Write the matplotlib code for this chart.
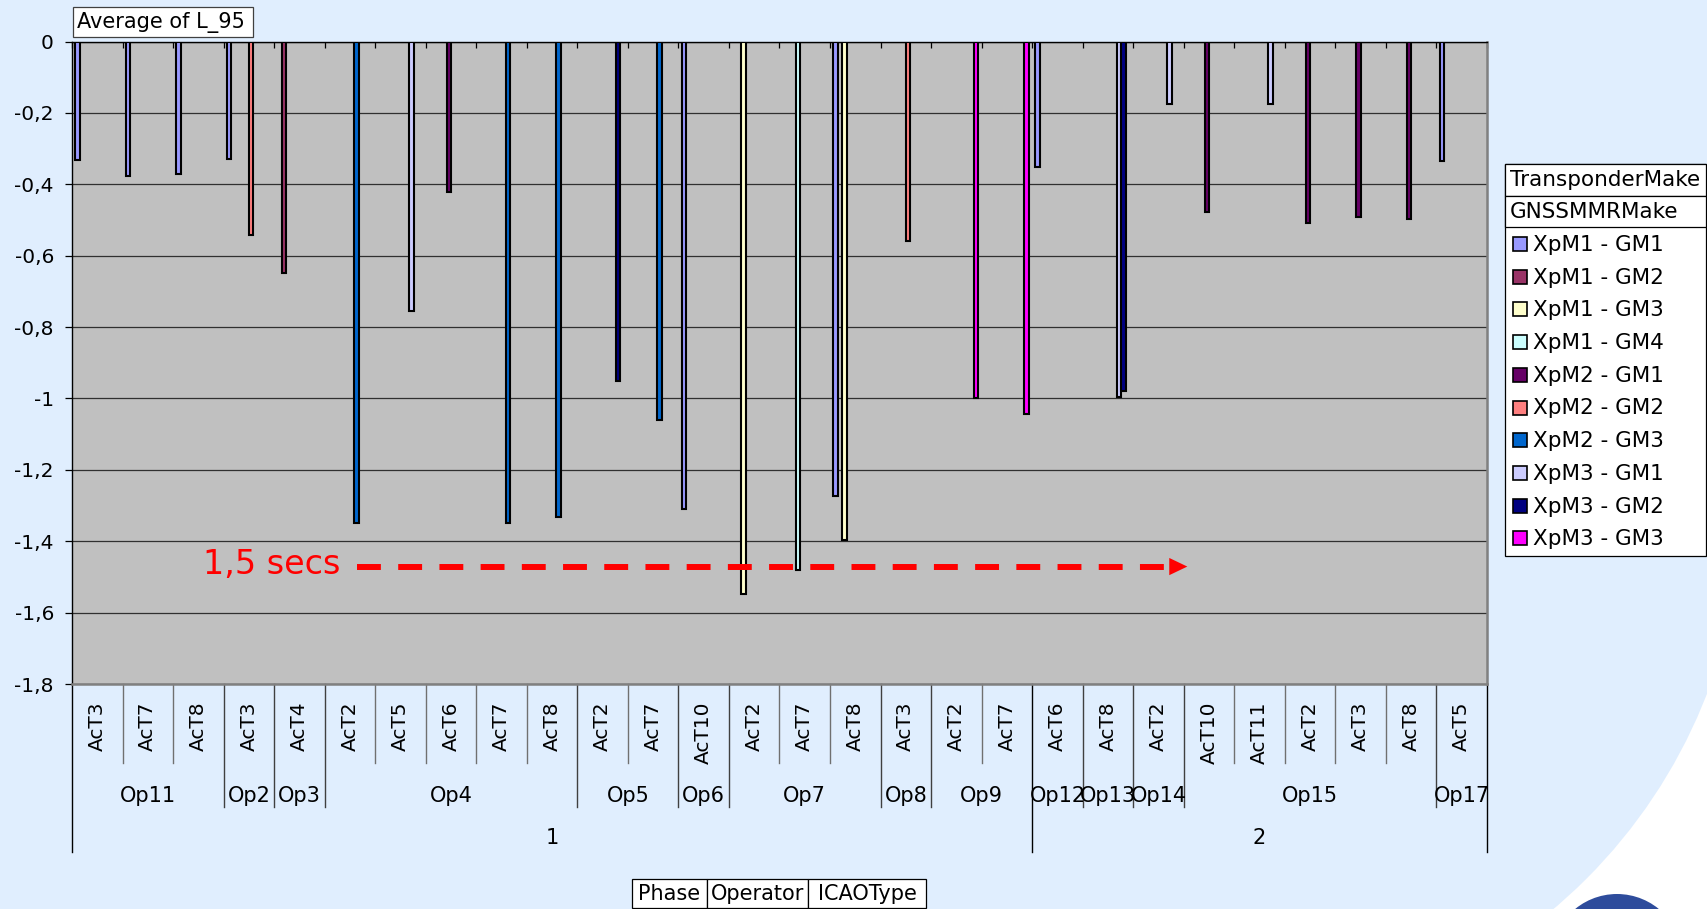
import numpy as np
import matplotlib.pyplot as plt
from matplotlib.patches import Rectangle, Circle

W, H = 1708, 909

# categories (Phase / Operator / ICAOType)
phase = [1] * 19 + [2] * 9
operator = ['Op11', 'Op11', 'Op11', 'Op2', 'Op3', 'Op4', 'Op4', 'Op4', 'Op4', 'Op4',
            'Op5', 'Op5', 'Op6', 'Op7', 'Op7', 'Op7', 'Op8', 'Op9', 'Op9',
            'Op12', 'Op13', 'Op14', 'Op15', 'Op15', 'Op15', 'Op15', 'Op15', 'Op17']
icao_type = ['AcT3', 'AcT7', 'AcT8', 'AcT3', 'AcT4', 'AcT2', 'AcT5', 'AcT6', 'AcT7', 'AcT8',
             'AcT2', 'AcT7', 'AcT10', 'AcT2', 'AcT7', 'AcT8', 'AcT3', 'AcT2', 'AcT7',
             'AcT6', 'AcT8', 'AcT2', 'AcT10', 'AcT11', 'AcT2', 'AcT3', 'AcT8', 'AcT5']

series_names = ['XpM1 - GM1', 'XpM1 - GM2', 'XpM1 - GM3', 'XpM1 - GM4', 'XpM2 - GM1',
                'XpM2 - GM2', 'XpM2 - GM3', 'XpM3 - GM1', 'XpM3 - GM2', 'XpM3 - GM3']
series_colors = ['#9999FF', '#993366', '#FFFFCC', '#CCFFFF', '#660066',
                 '#FF8080', '#0066CC', '#CCCCFF', '#000080', '#FF00FF']

# Average of L_95, one list per series (None = no bar)
_ = None
xpm1_gm1 = [-0.332, -0.376, -0.372, -0.329, _, _, _, _, _, _,
            _, _, -1.31, _, _, -1.273, _, _, _, -0.352,
            _, _, _, _, _, _, _, -0.335]
xpm1_gm2 = [_, _, _, _, -0.648, _, _, _, _, _,
            _, _, _, _, _, _, _, _, _, _,
            _, _, _, _, _, _, _, _]
xpm1_gm3 = [_, _, _, _, _, _, _, _, _, _,
            _, _, _, -1.548, _, -1.396, _, _, _, _,
            _, _, _, _, _, _, _, _]
xpm1_gm4 = [_, _, _, _, _, _, _, _, _, _,
            _, _, _, _, -1.48, _, _, _, _, _,
            _, _, _, _, _, _, _, _]
xpm2_gm1 = [_, _, _, _, _, _, _, -0.422, _, _,
            _, _, _, _, _, _, _, _, _, _,
            _, _, -0.477, _, -0.508, -0.492, -0.496, _]
xpm2_gm2 = [_, _, _, -0.541, _, _, _, _, _, _,
            _, _, _, _, _, _, -0.559, _, _, _,
            _, _, _, _, _, _, _, _]
xpm2_gm3 = [_, _, _, _, _, -1.35, _, _, -1.348, -1.332,
            _, -1.06, _, _, _, _, _, _, _, _,
            _, _, _, _, _, _, _, _]
xpm3_gm1 = [_, _, _, _, _, _, -0.755, _, _, _,
            _, _, _, _, _, _, _, _, _, _,
            -0.997, -0.176, _, -0.174, _, _, _, _]
xpm3_gm2 = [_, _, _, _, _, _, _, _, _, _,
            -0.952, _, _, _, _, _, _, _, _, _,
            -0.979, _, _, _, _, _, _, _]
xpm3_gm3 = [_, _, _, _, _, _, _, _, _, _,
            _, _, _, _, _, _, _, -1.0, -1.044, _,
            _, _, _, _, _, _, _, _]
values = [xpm1_gm1, xpm1_gm2, xpm1_gm3, xpm1_gm4, xpm2_gm1,
          xpm2_gm2, xpm2_gm3, xpm3_gm1, xpm3_gm2, xpm3_gm3]

yticks = [0, -0.2, -0.4, -0.6, -0.8, -1, -1.2, -1.4, -1.6, -1.8]

# annotation
note_text = '1,5 secs'
note_y = -1.471
arrow_start, arrow_end = 5.64, 22.07

bg = '#E0EEFE'
fs = 14.5

fig = plt.figure(figsize=(W / 100, H / 100), dpi=100)
fig.patch.set_facecolor(bg)

# background decoration (white arc + logo blob bottom right)
fig.add_artist(Rectangle((15.2, 0), 2.0, 2.4, transform=fig.dpi_scale_trans,
                         facecolor='white', edgecolor='none', zorder=-3))
fig.add_artist(Circle((12.09, 4.08), 5.34, transform=fig.dpi_scale_trans,
                      facecolor=bg, edgecolor='none', zorder=-2))
fig.add_artist(Circle((16.17, -0.51), 0.66, transform=fig.dpi_scale_trans,
                      facecolor='#2E4C9C', edgecolor='none', zorder=-1))

ax_l, ax_r, ax_t, ax_b = 72, 1487, 41.5, 684
ax = fig.add_axes([ax_l / W, 1 - ax_b / H, (ax_r - ax_l) / W, (ax_b - ax_t) / H])
ax.set_facecolor('#C0C0C0')

ncat = len(icao_type)
nser = len(series_names)
gap = 1.5
w = 1 / (nser + gap)
x = np.arange(ncat)
for s in range(nser):
    v = np.array([np.nan if a is None else a for a in values[s]], dtype=float)
    m = ~np.isnan(v)
    ax.bar(x[m] + gap / 2 * w + w * (s + 0.5), v[m], width=w * 1.05, color=series_colors[s],
           edgecolor='black', linewidth=1.5, zorder=3)

ax.set_xlim(0, ncat)
ax.set_ylim(-1.8, 0)
ax.set_yticks(yticks)
ax.set_yticklabels([('%g' % t).replace('.', ',') for t in yticks], fontsize=fs)
ax.yaxis.grid(True, color='#303030', linewidth=0.9, zorder=1)
ax.set_axisbelow(True)
ax.tick_params(axis='y', direction='out', length=5, width=0.9, pad=8)
ax.xaxis.set_ticks_position('top')
ax.set_xticks(np.arange(ncat + 1))
ax.tick_params(axis='x', direction='in', length=4.5, width=0.9, labeltop=False, labelbottom=False)
for side in ['left', 'top']:
    ax.spines[side].set_color('black')
    ax.spines[side].set_linewidth(1)
for side in ['right', 'bottom']:
    ax.spines[side].set_color('#808080')
    ax.spines[side].set_linewidth(1.8)

# multi level category axis below the plot
def yfrac(ypx):
    return -(ypx - ax_b) / (ax_b - ax_t)

tr = ax.get_xaxis_transform()
for i, name in enumerate(icao_type):
    ax.text(i + 0.5, yfrac(701.5), name, rotation=90, ha='center', va='top', fontsize=fs, transform=tr)

for b in range(ncat + 1):
    if b == 0 or b == ncat or phase[b] != phase[b - 1]:
        end, col = 852, 'black'
    elif operator[b] != operator[b - 1]:
        end, col = 807, '#404040'
    else:
        end, col = 763, '#707070'
    ax.plot([b, b], [0, yfrac(end)], color=col, lw=1, transform=tr, clip_on=False)

def groups(labels):
    out = []
    start = 0
    for i in range(1, len(labels) + 1):
        if i == len(labels) or labels[i] != labels[start] or (labels is operator and phase[i] != phase[start]):
            out.append((labels[start], start, i))
            start = i
    return out

for name, a, b in groups(operator):
    ax.text((a + b) / 2, yfrac(796.5), name, ha='center', va='center', fontsize=fs + 0.5, transform=tr)
for name, a, b in groups(phase):
    ax.text((a + b) / 2, yfrac(838), str(name), ha='center', va='center', fontsize=fs + 0.5, transform=tr)

# 1,5 secs dashed arrow
head_len = 0.37
ax.plot([arrow_start, arrow_end - head_len + 0.02], [note_y, note_y], color='red', lw=4.3,
        ls=(0, (4, 2.9)), dash_capstyle='butt', zorder=5)
ax.annotate('', xy=(arrow_end, note_y), xytext=(arrow_end - head_len, note_y),
            arrowprops=dict(arrowstyle='-|>,head_length=1.3,head_width=0.62', color='red',
                            lw=0, shrinkA=0, shrinkB=0, mutation_scale=10), zorder=5)
ax.text(arrow_start - 0.32, note_y - 0.02, note_text, color='red', fontsize=24,
        ha='right', va='baseline', zorder=5)

# pivot field buttons and legend, in figure pixels
def fig_rect(x0, y0, x1, y1, **kw):
    fig.add_artist(Rectangle((x0 / W, 1 - y1 / H), (x1 - x0) / W, (y1 - y0) / H,
                             transform=fig.transFigure, **kw))

def fig_text(xp, yp, s, **kw):
    fig.text(xp / W, 1 - yp / H, s, **kw)

fig_rect(72.7, 7.3, 252.6, 36.7, facecolor='white', edgecolor='#404040', lw=0.9)
fig_text(77, 22.5, 'Average of L_95', fontsize=15, va='center', ha='left')

cells = [(632, 707, 'Phase'), (707, 808, 'Operator'), (808, 926, 'ICAOType')]
for x0, x1, s in cells:
    fig_rect(x0, 879, x1, 908, facecolor='white', edgecolor='black', lw=0.9)
    fig_text((x0 + x1) / 2, 894, s, fontsize=15, va='center', ha='center')

fig_rect(1505, 164, 1706, 556, facecolor='white', edgecolor='black', lw=0.9)
fig_rect(1505, 164, 1706, 196, facecolor='white', edgecolor='black', lw=0.9)
fig_rect(1505, 196, 1706, 227, facecolor='white', edgecolor='black', lw=0.9)
fig_text(1510, 180.5, 'TransponderMake', fontsize=15.5, va='center', ha='left')
fig_text(1510, 212, 'GNSSMMRMake', fontsize=15.5, va='center', ha='left')
for i, (name, col) in enumerate(zip(series_names, series_colors)):
    yc = 244 + 32.7 * i
    fig_rect(1513, yc - 7, 1527, yc + 7, facecolor=col, edgecolor='black', lw=1.2)
    fig_text(1533, yc + 1, name, fontsize=15.5, va='center', ha='left')

fig.savefig('out.png', dpi=100)
